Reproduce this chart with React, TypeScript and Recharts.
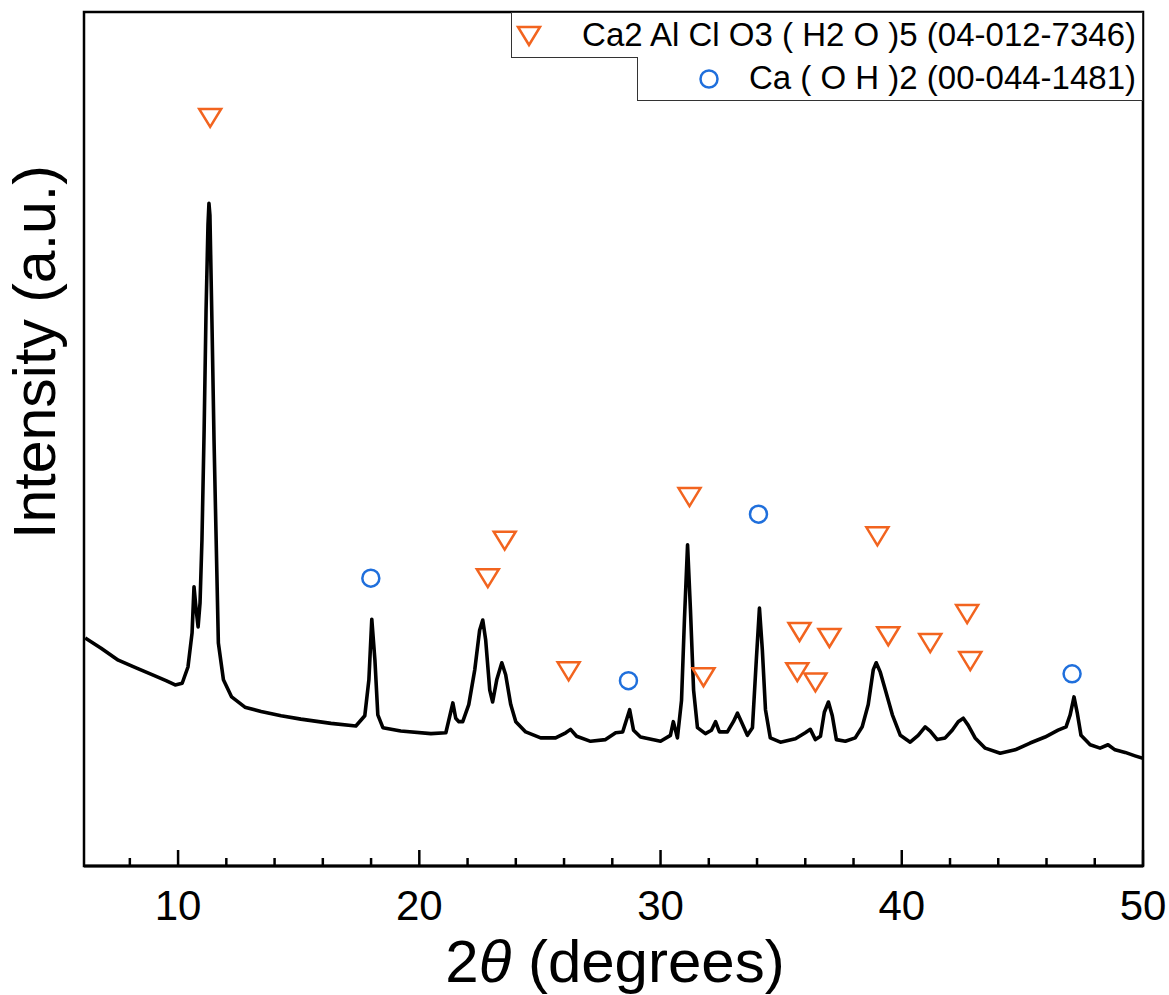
import React from 'react';
import { ComposedChart, Line, Scatter, XAxis, YAxis, ReferenceArea } from 'recharts';

// XRD pattern
const twoTheta = [
  6.15, 6.81, 7.52, 8.26, 8.92, 9.5, 9.88, 10.17, 10.41, 10.58, 10.66, 10.75, 10.83, 10.91, 10.99,
  11.08, 11.16, 11.24, 11.28, 11.32, 11.41, 11.49, 11.57, 11.67, 11.88, 12.22, 12.77, 13.44, 14.27,
  15.09, 16.34, 17.37, 17.74, 17.91, 18.03, 18.16, 18.28, 18.49, 19.23, 20.48, 21.1, 21.3, 21.39,
  21.51, 21.64, 21.8, 22.05, 22.3, 22.5, 22.63, 22.75, 22.92, 23.04, 23.21, 23.42, 23.58, 23.79, 24.0,
  24.41, 25.03, 25.65, 26.07, 26.27, 26.52, 27.1, 27.72, 28.14, 28.43, 28.72, 28.88, 29.17, 30.0,
  30.41, 30.53, 30.7, 30.87, 30.99, 31.12, 31.24, 31.37, 31.53, 31.86, 32.11, 32.28, 32.44, 32.77,
  33.02, 33.19, 33.35, 33.6, 33.81, 33.97, 34.1, 34.22, 34.35, 34.55, 34.97, 35.59, 36.0, 36.21,
  36.42, 36.63, 36.79, 36.96, 37.12, 37.29, 37.66, 38.07, 38.36, 38.61, 38.82, 38.94, 39.11, 39.32,
  39.61, 39.94, 40.35, 40.68, 40.97, 41.18, 41.47, 41.8, 42.09, 42.34, 42.55, 42.75, 43.04, 43.46,
  44.08, 44.7, 45.32, 45.94, 46.48, 46.81, 46.98, 47.14, 47.27, 47.43, 47.81, 48.22, 48.55, 48.84,
  49.26, 49.67, 50.0,
];
const intensity = [
  26.7, 25.5, 24.1, 23.2, 22.4, 21.7, 21.2, 21.4, 23.3, 27.3, 32.7, 30.0, 28.0, 30.8, 38.2,
  51.1, 65.1, 75.1, 77.6, 76.2, 62.8, 49.9, 39.3, 26.1, 21.8, 19.8, 18.6, 18.1, 17.6,
  17.2, 16.7, 16.4, 17.6, 21.8, 28.9, 24.1, 17.7, 16.2, 15.8, 15.5, 15.6, 18.0, 19.1,
  17.3, 16.9, 16.9, 18.9, 23.0, 27.6, 28.8, 26.5, 20.6, 19.2, 21.8, 23.8, 22.4, 18.9, 16.9,
  15.7, 15.0, 15.0, 15.6, 16.0, 15.2, 14.6, 14.8, 15.6, 15.7, 18.3, 15.9, 15.1, 14.6,
  15.3, 16.9, 15.0, 19.4, 28.8, 37.6, 30.0, 20.6, 16.2, 15.5, 15.9, 16.9, 15.7, 15.7,
  16.9, 17.9, 16.9, 15.3, 16.2, 24.1, 30.2, 25.3, 18.3, 15.0, 14.5, 14.9, 15.6, 16.0,
  14.8, 15.2, 18.0, 19.2, 17.6, 14.8, 14.6, 15.0, 16.3, 18.9, 23.0, 23.8, 22.7, 20.6,
  17.7, 15.3, 14.5, 15.3, 16.3, 15.8, 14.8, 15.0, 15.9, 16.9, 17.3, 16.5, 15.0, 13.8,
  13.2, 13.6, 14.4, 15.1, 15.9, 16.3, 17.7, 19.8, 18.0, 15.3, 14.2, 13.8, 14.2, 13.6,
  13.3, 12.9, 12.6,
];

// phase markers: Friedel's salt and portlandite
const friedelAngles = [11.33, 22.84, 23.54, 26.19, 31.2, 31.78, 35.76, 35.67, 36.42, 37.0, 38.99, 39.44, 41.18, 42.71, 42.84];
const friedelHeights = [87.6, 33.7, 38.1, 22.8, 43.2, 22.1, 27.4, 22.7, 21.5, 26.7, 38.6, 26.9, 26.1, 29.5, 24.0];
const portlanditeAngles = [17.99, 28.67, 34.06, 47.06];
const portlanditeHeights = [33.7, 21.7, 41.2, 22.5];

const xTicks = [8, 10, 12, 14, 16, 18, 20, 22, 24, 26, 28, 30, 32, 34, 36, 38, 40, 42, 44, 46, 48, 50];

const ORANGE = '#f2641f';
const BLUE = '#1f6fdc';
const FONT = '"Liberation Sans", Arial, sans-serif';

const pattern = twoTheta.map((x, i) => ({ x, y: intensity[i] }));
const friedel = friedelAngles.map((x, i) => ({ x, y: friedelHeights[i] }));
const portlandite = portlanditeAngles.map((x, i) => ({ x, y: portlanditeHeights[i] }));

const Triangle = ({ cx, cy }: any) => (
  <path d={`M${cx - 11},${cy - 9}L${cx + 11},${cy - 9}L${cx},${cy + 9}Z`} fill="none" stroke={ORANGE} strokeWidth={2.5} />
);
const Ring = ({ cx, cy }: any) => (
  <circle cx={cx} cy={cy} r={8.5} fill="none" stroke={BLUE} strokeWidth={2.5} />
);

const XTick = ({ x, y, payload }: any) => {
  const major = payload.value % 10 === 0;
  return (
    <g>
      <line x1={x} y1={y} x2={x} y2={y - (major ? 16 : 8)} stroke="#000" strokeWidth={2.5} />
      {major && (
        <text x={x} y={y + 54} textAnchor="middle" fontSize={42} fontFamily={FONT} fill="#000">
          {payload.value}
        </text>
      )}
    </g>
  );
};

const LegendBoxes = () => (
  <div style={{ position: 'absolute', left: 511, top: 12, width: 634, height: 92, fontFamily: FONT, fontSize: 33, color: '#000' }}>
    <div style={{ position: 'absolute', left: 0, top: 0, width: 630, height: 44, border: '1.5px solid #333', background: '#fff' }}>
      <svg width={30} height={30} style={{ position: 'absolute', left: 2, top: 8 }}>
        <path d="M4,6L26,6L15,24Z" fill="none" stroke={ORANGE} strokeWidth={2.5} />
      </svg>
      <span style={{ position: 'absolute', right: 6, top: 3, whiteSpace: 'nowrap' }}>Ca2 Al Cl O3 ( H2 O )5 (04-012-7346)</span>
    </div>
    <div style={{ position: 'absolute', left: 126, top: 45, width: 504, height: 43, border: '1.5px solid #333', borderTop: 'none', background: '#fff' }}>
      <svg width={30} height={30} style={{ position: 'absolute', left: 56, top: 7 }}>
        <circle cx={15} cy={15} r={8.5} fill="none" stroke={BLUE} strokeWidth={2.5} />
      </svg>
      <span style={{ position: 'absolute', right: 6, top: 2, whiteSpace: 'nowrap' }}>Ca ( O H )2 (00-044-1481)</span>
    </div>
  </div>
);

export default function App() {
  return (
    <div style={{ position: 'absolute', left: 0, top: 0, width: 1169, height: 995, background: '#fff' }}>
      <ComposedChart width={1169} height={995} data={pattern} margin={{ top: 12, right: 26, bottom: 0, left: 84 }}>
        <XAxis
          dataKey="x"
          type="number"
          domain={[6.1, 50]}
          allowDataOverflow
          ticks={xTicks}
          interval={0}
          height={129}
          tickSize={0}
          tickMargin={0}
          tickLine={false}
          axisLine={{ stroke: '#000', strokeWidth: 3 }}
          tick={<XTick />}
          label={{
            content: () => (
              <g>
                <text x={615} y={982} textAnchor="middle" fontSize={60} fontFamily={FONT} fill="#000">
                  <tspan>2</tspan>
                  <tspan fontStyle="italic">θ</tspan>
                  <tspan> (degrees)</tspan>
                </text>
                <text x={55} y={352} transform="rotate(-90, 55, 352)" textAnchor="middle" fontSize={59} fontFamily={FONT} fill="#000">
                  Intensity (a.u.)
                </text>
              </g>
            ),
          }}
        />
        <YAxis
          type="number"
          domain={[0, 100]}
          allowDataOverflow
          width={0}
          tick={false}
          tickLine={false}
          axisLine={{ stroke: '#000', strokeWidth: 3 }}
        />
        <ReferenceArea x1={6.1} x2={50} y1={0} y2={100} fill="none" stroke="#000" strokeWidth={2.5} />
        <Line dataKey="y" type="linear" stroke="#000" strokeWidth={3.6} strokeLinejoin="round" dot={false} isAnimationActive={false} />
        <Scatter data={friedel} dataKey="y" shape={<Triangle />} isAnimationActive={false} />
        <Scatter data={portlandite} dataKey="y" shape={<Ring />} isAnimationActive={false} />
      </ComposedChart>
      <LegendBoxes />
    </div>
  );
}
